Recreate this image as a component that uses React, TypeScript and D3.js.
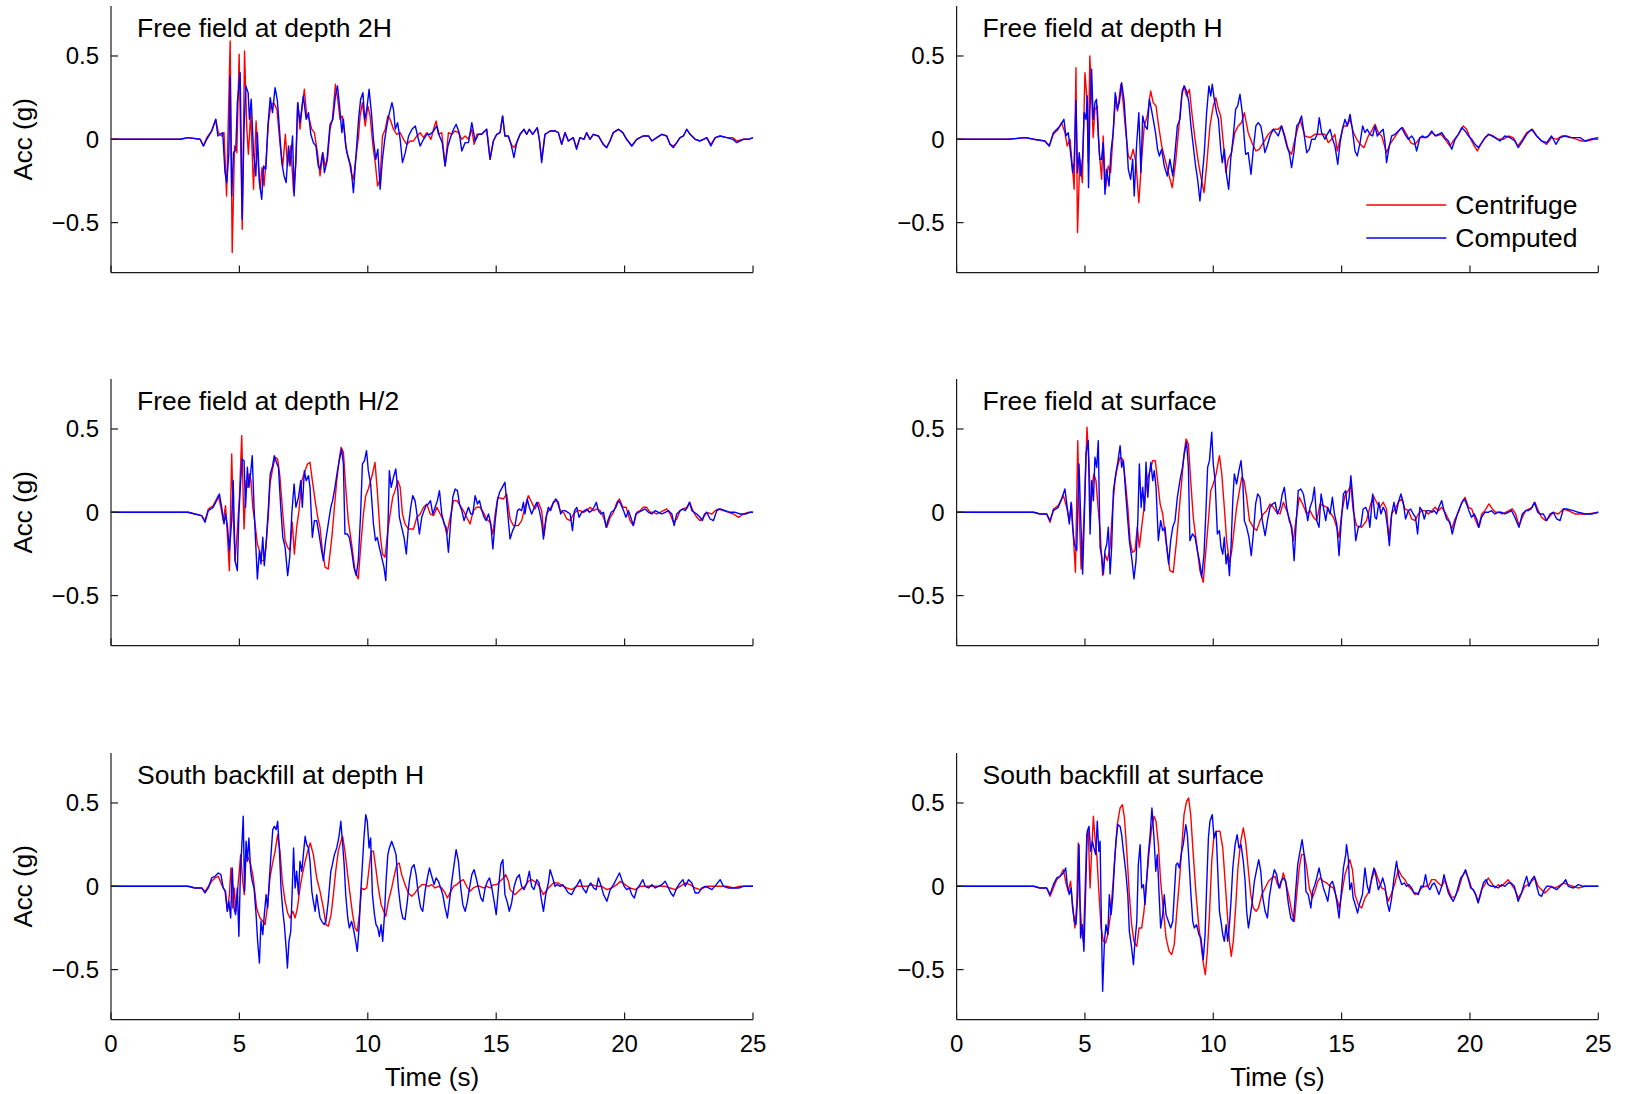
import React from "react";
import * as d3 from "d3";

// ---------- data ----------
const TIME_TICKS = [0, 5, 10, 15, 20, 25];
const ACC_TICKS = [-0.5, 0, 0.5];
const TIME_DOMAIN = [0, 25];
const ACC_DOMAIN = [-0.8, 0.8];
const PANEL_TITLES = [
  "Free field at depth 2H",
  "Free field at depth H",
  "Free field at depth H/2",
  "Free field at surface",
  "South backfill at depth H",
  "South backfill at surface",
];
const SERIES_NAMES = ["Centrifuge", "Computed"];
const X_LABEL = "Time (s)";
const Y_LABEL = "Acc (g)";

type P = [number, number];

// Free field at depth 2H
const centrifuge2H: P[] = [[0,0],[1.0,0],[2.0,0],[2.7,0],[3.0,0.01],[3.47,0],[3.60,-0.04],[3.73,0.01],[3.92,0.05],[4.08,0.12],[4.18,0.04],[4.31,0.02],[4.40,0.04],[4.50,-0.34],[4.64,0.59],[4.72,-0.68],[4.81,-0.04],[4.90,-0.08],[4.99,0.51],[5.11,-0.54],[5.20,0.53],[5.29,0.06],[5.35,-0.09],[5.44,0.16],[5.55,-0.30],[5.65,0.11],[5.74,-0.16],[5.81,-0.30],[5.88,-0.17],[5.96,-0.28],[6.04,-0.12],[6.13,0.10],[6.22,0.20],[6.33,0.22],[6.46,0.18],[6.59,-0.04],[6.69,-0.16],[6.79,0.03],[6.87,-0.16],[7.00,-0.04],[7.11,-0.32],[7.20,-0.14],[7.27,0.22],[7.36,0.06],[7.46,0.22],[7.53,0.30],[7.62,0.14],[7.72,0.12],[7.82,0.06],[7.92,0.04],[8.04,-0.08],[8.14,-0.22],[8.25,-0.08],[8.34,-0.16],[8.43,-0.12],[8.53,0.06],[8.62,0.12],[8.74,0.33],[8.83,0.24],[8.92,0.12],[9.01,0.14],[9.09,0.04],[9.18,-0.08],[9.27,-0.12],[9.35,-0.20],[9.44,-0.24],[9.53,-0.12],[9.64,0.02],[9.70,0.14],[9.79,0.22],[9.90,0.08],[10.0,0.20],[10.09,0.14],[10.20,-0.04],[10.29,-0.14],[10.38,-0.28],[10.48,-0.24],[10.57,0.02],[10.68,0.06],[10.78,0.14],[10.87,0.12],[11.00,0.06],[11.13,0.03],[11.26,0.04],[11.39,0.0],[11.52,-0.03],[11.65,-0.01],[11.78,-0.01],[11.91,0.02],[12.04,0.04],[12.17,0.01],[12.30,0.04],[12.46,0.0],[12.56,0.06],[12.66,0.11],[12.75,0.03],[12.88,0.04],[13.01,-0.16],[13.14,0.04],[13.27,0.03],[13.40,0.05],[13.53,0.04],[13.66,0.0],[13.79,0.02],[13.92,0.0],[14.05,0.06],[14.14,-0.03],[14.25,0.03],[14.43,0.03],[14.63,0.06],[14.76,-0.12],[14.89,-0.01],[15.02,0.03],[15.15,0.04],[15.25,0.14],[15.34,0.02],[15.47,0.02],[15.58,-0.03],[15.69,-0.05],[15.80,-0.02],[15.93,0.03],[16.08,0.06],[16.19,0.03],[16.29,0.06],[16.42,0.03],[16.60,0.07],[16.68,0.0],[16.77,-0.12],[16.90,0.03],[17.10,0.05],[17.29,0.05],[17.42,0.04],[17.55,-0.03],[17.68,0.04],[17.81,-0.01],[18.0,0.01],[18.13,-0.05],[18.26,0.01],[18.42,0.0],[18.52,0.04],[18.65,0.0],[18.78,0.03],[18.98,0.02],[19.17,-0.03],[19.30,-0.05],[19.43,-0.01],[19.56,0.04],[19.76,0.06],[19.93,0.04],[20.08,0.0],[20.28,-0.04],[20.47,0.0],[20.73,0.02],[20.93,0.02],[21.06,-0.01],[21.25,0.01],[21.45,0.03],[21.64,0.02],[21.77,-0.03],[21.90,-0.04],[22.03,-0.02],[22.16,0.01],[22.29,0.02],[22.42,0.06],[22.55,0.03],[22.75,0.0],[22.94,-0.01],[23.07,0.0],[23.20,0.01],[23.36,-0.03],[23.53,0.01],[23.72,0.02],[23.98,0.01],[24.21,0.01],[24.37,-0.01],[24.63,0.0],[24.82,0.0],[25.0,0.01]];
const computed2H: P[] = [[0,0],[1.0,0],[2.0,0],[2.7,0],[3.0,0.01],[3.47,0],[3.60,-0.04],[3.73,0.0],[3.92,0.05],[4.08,0.12],[4.16,0.02],[4.25,0.03],[4.35,0.04],[4.44,-0.20],[4.51,-0.26],[4.59,-0.08],[4.64,0.38],[4.70,-0.34],[4.77,-0.08],[4.86,-0.06],[4.92,0.22],[5.03,0.40],[5.11,-0.48],[5.18,0.06],[5.25,0.32],[5.34,0.28],[5.39,0.12],[5.46,0.24],[5.55,-0.08],[5.64,-0.22],[5.70,0.04],[5.78,-0.26],[5.87,-0.36],[5.94,-0.16],[6.03,-0.18],[6.11,0.08],[6.20,0.25],[6.29,0.16],[6.39,0.31],[6.48,0.23],[6.56,0.06],[6.65,-0.14],[6.74,-0.22],[6.82,-0.26],[6.91,-0.04],[6.97,-0.16],[7.07,0.02],[7.13,-0.34],[7.21,-0.08],[7.27,0.22],[7.36,0.10],[7.49,0.26],[7.60,0.12],[7.69,0.16],[7.78,0.03],[7.88,-0.02],[7.98,-0.04],[8.07,-0.16],[8.14,-0.18],[8.24,-0.08],[8.31,-0.20],[8.40,-0.14],[8.53,0.09],[8.64,0.12],[8.74,0.26],[8.82,0.32],[8.90,0.20],[8.99,0.04],[9.05,0.12],[9.14,-0.04],[9.25,-0.12],[9.34,-0.16],[9.44,-0.32],[9.53,-0.12],[9.64,0.12],[9.72,0.24],[9.81,0.28],[9.88,0.12],[9.96,0.18],[10.05,0.30],[10.14,0.16],[10.22,0.0],[10.31,-0.12],[10.39,-0.06],[10.48,-0.30],[10.57,-0.12],[10.66,0.0],[10.74,0.08],[10.83,0.15],[10.94,0.22],[11.0,0.18],[11.07,0.06],[11.16,0.10],[11.26,0.0],[11.35,-0.14],[11.46,-0.08],[11.59,0.02],[11.72,0.06],[11.85,0.08],[11.94,0.02],[12.04,-0.04],[12.17,0.0],[12.30,0.03],[12.43,0.03],[12.56,0.05],[12.69,0.08],[12.79,0.02],[12.90,-0.02],[13.01,-0.16],[13.12,-0.04],[13.24,0.02],[13.34,0.06],[13.44,0.09],[13.56,0.04],[13.66,-0.07],[13.79,-0.02],[13.92,-0.02],[14.05,0.10],[14.18,-0.01],[14.31,0.03],[14.43,0.03],[14.63,0.06],[14.76,-0.12],[14.89,-0.01],[15.02,0.03],[15.15,0.04],[15.25,0.14],[15.34,0.02],[15.47,0.02],[15.58,-0.03],[15.69,-0.11],[15.80,-0.02],[15.93,0.03],[16.08,0.06],[16.19,0.03],[16.29,0.06],[16.42,0.03],[16.60,0.07],[16.68,0.0],[16.77,-0.14],[16.90,0.03],[17.10,0.05],[17.29,0.05],[17.42,0.04],[17.55,-0.03],[17.68,0.04],[17.81,-0.01],[18.0,0.01],[18.13,-0.06],[18.26,0.01],[18.42,0.0],[18.52,0.04],[18.65,0.0],[18.78,0.03],[18.98,0.02],[19.17,-0.03],[19.30,-0.05],[19.43,-0.01],[19.56,0.04],[19.76,0.06],[19.93,0.04],[20.08,0.0],[20.28,-0.04],[20.47,0.0],[20.73,0.02],[20.93,0.02],[21.06,-0.01],[21.25,0.01],[21.45,0.03],[21.64,0.02],[21.77,-0.03],[21.90,-0.05],[22.03,-0.02],[22.16,0.01],[22.29,0.02],[22.42,0.06],[22.55,0.03],[22.75,0.0],[22.94,-0.01],[23.07,0.0],[23.20,0.01],[23.36,-0.04],[23.53,0.01],[23.72,0.02],[23.98,0.01],[24.21,0.0],[24.37,-0.02],[24.63,0.0],[24.82,0.0],[25.0,0.01]];

// Free field at depth H
const centrifugeH: P[] = [[0,0],[1,0],[2,0],[2.7,0.01],[3.0,0.0],[3.44,-0.01],[3.61,-0.04],[3.77,0.03],[3.96,0.06],[4.09,0.10],[4.22,0.04],[4.31,-0.04],[4.42,0.0],[4.52,-0.18],[4.58,-0.30],[4.65,0.43],[4.71,-0.56],[4.80,-0.12],[4.90,-0.26],[5.0,0.40],[5.08,0.24],[5.13,-0.14],[5.19,0.50],[5.27,0.22],[5.32,0.01],[5.39,0.18],[5.48,0.20],[5.56,-0.08],[5.65,-0.24],[5.71,0.02],[5.80,-0.30],[5.91,-0.16],[6.0,-0.20],[6.10,0.04],[6.20,0.26],[6.27,0.17],[6.40,0.33],[6.49,0.22],[6.58,0.06],[6.69,-0.10],[6.78,-0.12],[6.88,-0.06],[6.99,-0.14],[7.10,-0.38],[7.21,-0.12],[7.31,0.08],[7.43,0.14],[7.56,0.29],[7.66,0.22],[7.77,0.20],[7.87,0.08],[7.99,-0.04],[8.12,-0.12],[8.25,-0.20],[8.40,-0.29],[8.53,-0.14],[8.64,0.04],[8.77,0.26],[8.86,0.32],[8.96,0.26],[9.07,0.30],[9.18,0.14],[9.29,0.0],[9.42,-0.14],[9.51,-0.22],[9.64,-0.32],[9.74,-0.16],[9.87,0.08],[10.0,0.20],[10.1,0.25],[10.2,0.18],[10.29,0.14],[10.39,-0.02],[10.49,-0.20],[10.58,-0.12],[10.71,-0.08],[10.84,0.04],[10.97,0.08],[11.1,0.10],[11.21,0.16],[11.36,0.04],[11.53,-0.03],[11.66,-0.07],[11.79,-0.06],[11.95,-0.02],[12.14,0.03],[12.34,0.06],[12.53,0.06],[12.66,0.08],[12.79,0.02],[12.92,-0.06],[13.05,-0.09],[13.18,0.0],[13.38,0.12],[13.57,0.02],[13.77,0.01],[13.96,0.03],[14.16,0.03],[14.35,0.03],[14.48,-0.02],[14.61,0.0],[14.74,0.03],[14.83,-0.07],[14.94,0.0],[15.07,0.08],[15.2,0.08],[15.33,0.12],[15.46,0.04],[15.59,0.0],[15.72,-0.03],[15.87,-0.05],[16.04,0.02],[16.17,0.05],[16.30,0.09],[16.43,0.04],[16.56,0.02],[16.75,-0.08],[16.88,-0.03],[17.01,0.0],[17.14,0.03],[17.27,0.06],[17.38,0.07],[17.53,0.03],[17.69,-0.02],[17.82,-0.03],[17.92,-0.02],[18.05,0.01],[18.18,0.01],[18.31,0.01],[18.51,0.04],[18.70,0.02],[18.87,0.03],[19.03,0.0],[19.22,-0.04],[19.35,-0.01],[19.55,0.03],[19.74,0.08],[19.87,0.06],[20.0,0.01],[20.13,-0.03],[20.29,-0.07],[20.42,-0.03],[20.59,0.01],[20.75,0.03],[20.91,0.02],[21.1,0.0],[21.3,0.0],[21.49,0.02],[21.69,0.01],[21.86,-0.04],[22.01,-0.01],[22.21,0.04],[22.44,0.06],[22.6,0.02],[22.79,-0.01],[22.99,-0.03],[23.18,0.01],[23.38,0.0],[23.57,0.02],[23.77,0.02],[23.96,0.01],[24.16,0.0],[24.35,-0.01],[24.55,-0.01],[24.81,0.0],[25.0,0.0]];
const computedH: P[] = [[0,0],[1,0],[2,0],[2.7,0.01],[3.0,0.0],[3.44,-0.01],[3.61,-0.04],[3.77,0.04],[4.03,0.08],[4.18,0.12],[4.26,0.02],[4.35,0.04],[4.44,-0.08],[4.52,-0.20],[4.58,-0.14],[4.65,0.23],[4.71,-0.20],[4.78,-0.08],[4.84,-0.22],[4.91,-0.10],[4.97,0.16],[5.04,0.12],[5.09,0.26],[5.14,-0.29],[5.19,0.16],[5.26,0.42],[5.32,0.12],[5.39,0.22],[5.45,0.24],[5.52,0.02],[5.58,-0.12],[5.65,-0.12],[5.71,-0.02],[5.78,-0.33],[5.84,-0.18],[5.94,-0.28],[6.01,-0.08],[6.10,0.04],[6.18,0.28],[6.26,0.18],[6.34,0.22],[6.43,0.34],[6.52,0.24],[6.60,0.06],[6.69,-0.18],[6.78,-0.24],[6.86,-0.12],[6.92,-0.34],[7.01,-0.04],[7.10,0.16],[7.18,-0.20],[7.25,0.14],[7.34,0.08],[7.43,0.06],[7.51,0.24],[7.60,0.17],[7.66,0.12],[7.75,0.04],[7.83,-0.06],[7.90,-0.10],[7.99,-0.06],[8.09,-0.16],[8.21,-0.22],[8.31,-0.12],[8.42,-0.22],[8.51,-0.08],[8.60,0.08],[8.70,0.12],[8.79,0.29],[8.87,0.32],[8.96,0.29],[9.05,0.22],[9.13,0.08],[9.22,-0.04],[9.31,-0.16],[9.39,-0.24],[9.48,-0.37],[9.57,-0.22],[9.65,-0.08],[9.74,0.16],[9.83,0.32],[9.90,0.26],[9.96,0.33],[10.04,0.24],[10.13,0.16],[10.2,0.12],[10.29,-0.06],[10.35,-0.14],[10.43,-0.06],[10.52,-0.22],[10.6,-0.30],[10.68,-0.12],[10.78,0.02],[10.87,0.18],[10.95,0.20],[11.04,0.27],[11.13,0.16],[11.21,0.0],[11.26,-0.09],[11.36,-0.08],[11.47,-0.21],[11.56,-0.06],[11.66,0.08],[11.75,0.10],[11.85,0.08],[11.92,0.02],[12.01,-0.08],[12.1,-0.04],[12.21,0.02],[12.34,0.06],[12.44,0.04],[12.53,0.02],[12.66,0.08],[12.77,0.02],[12.86,-0.04],[12.96,-0.08],[13.05,-0.17],[13.14,-0.08],[13.25,0.08],[13.35,0.10],[13.44,0.14],[13.53,0.04],[13.64,-0.08],[13.74,-0.06],[13.83,0.0],[13.96,0.0],[14.05,0.03],[14.13,0.13],[14.22,0.04],[14.35,0.0],[14.44,0.03],[14.55,0.06],[14.65,0.0],[14.74,-0.04],[14.85,-0.15],[14.94,-0.02],[15.03,0.06],[15.13,0.12],[15.22,0.08],[15.33,0.15],[15.42,0.06],[15.52,-0.07],[15.61,-0.10],[15.72,-0.02],[15.82,0.08],[15.91,0.04],[16.0,0.06],[16.1,0.03],[16.21,0.02],[16.30,0.08],[16.39,0.02],[16.49,0.04],[16.62,0.06],[16.69,-0.02],[16.75,-0.14],[16.86,-0.04],[16.95,0.02],[17.08,0.03],[17.21,0.05],[17.34,0.07],[17.47,0.03],[17.60,0.0],[17.73,0.02],[17.82,0.0],[17.92,-0.07],[18.05,0.01],[18.16,0.02],[18.25,0.01],[18.38,0.02],[18.51,0.05],[18.64,0.02],[18.77,0.03],[18.90,0.04],[19.03,0.01],[19.16,-0.01],[19.29,-0.06],[19.42,0.0],[19.55,0.03],[19.68,0.07],[19.81,0.05],[19.94,0.02],[20.07,0.0],[20.2,-0.03],[20.33,-0.05],[20.46,-0.02],[20.59,0.01],[20.72,0.03],[20.85,0.02],[20.97,0.01],[21.17,-0.01],[21.36,0.02],[21.56,0.01],[21.75,-0.01],[21.88,-0.05],[22.01,-0.02],[22.21,0.03],[22.40,0.06],[22.6,0.02],[22.79,-0.01],[22.99,-0.02],[23.18,0.02],[23.35,-0.03],[23.51,0.01],[23.70,0.02],[23.90,0.01],[24.09,0.01],[24.29,0.01],[24.48,-0.01],[24.68,0.0],[25.0,0.01]];

// Free field at depth H/2
const centrifugeH2: P[] = [[0,0],[1,0],[2,0],[3.0,0.0],[3.27,-0.01],[3.53,-0.02],[3.66,-0.05],[3.79,0.02],[3.98,0.04],[4.18,0.10],[4.28,0.03],[4.37,-0.05],[4.46,0.04],[4.53,-0.13],[4.61,-0.35],[4.70,0.35],[4.76,-0.01],[4.83,-0.29],[4.92,-0.11],[5.0,0.09],[5.09,0.46],[5.18,-0.10],[5.26,0.19],[5.32,0.15],[5.39,0.23],[5.45,0.19],[5.52,0.03],[5.61,-0.07],[5.70,-0.19],[5.78,-0.23],[5.87,-0.29],[5.96,-0.29],[6.04,-0.19],[6.13,-0.01],[6.19,0.17],[6.28,0.25],[6.39,0.33],[6.49,0.32],[6.58,0.21],[6.67,0.03],[6.78,-0.17],[6.88,-0.21],[6.97,-0.23],[7.06,-0.06],[7.14,-0.25],[7.23,-0.09],[7.32,0.01],[7.43,0.19],[7.56,0.25],[7.65,0.29],[7.75,0.30],[7.84,0.19],[7.95,0.07],[8.05,-0.03],[8.14,-0.09],[8.23,-0.23],[8.34,-0.33],[8.46,-0.34],[8.60,-0.15],[8.70,0.03],[8.79,0.19],[8.88,0.31],[8.96,0.39],[9.05,0.36],[9.14,0.15],[9.24,-0.05],[9.37,-0.19],[9.50,-0.35],[9.63,-0.40],[9.72,-0.21],[9.83,-0.01],[9.92,0.10],[10.02,0.14],[10.15,0.21],[10.28,0.30],[10.37,0.13],[10.48,-0.13],[10.57,-0.25],[10.67,-0.27],[10.78,-0.11],[10.87,-0.01],[10.97,0.09],[11.06,0.13],[11.17,0.19],[11.26,0.15],[11.35,-0.01],[11.45,-0.07],[11.58,-0.10],[11.78,-0.10],[11.91,-0.03],[12.04,-0.01],[12.17,0.03],[12.30,0.05],[12.43,-0.01],[12.56,-0.02],[12.69,0.03],[12.82,-0.01],[12.95,-0.05],[13.08,-0.13],[13.21,-0.03],[13.34,0.07],[13.47,0.07],[13.6,0.04],[13.72,0.01],[13.85,-0.03],[13.98,-0.07],[14.11,0.01],[14.24,0.03],[14.37,0.03],[14.5,0.0],[14.63,-0.04],[14.76,-0.06],[14.87,-0.13],[14.96,-0.01],[15.06,0.09],[15.28,0.08],[15.41,0.11],[15.54,-0.04],[15.67,-0.08],[15.86,-0.08],[15.99,-0.05],[16.12,0.03],[16.25,0.10],[16.38,0.06],[16.51,0.02],[16.64,0.06],[16.77,0.01],[16.86,-0.14],[16.97,-0.01],[17.10,0.02],[17.23,0.06],[17.36,0.07],[17.49,0.01],[17.62,0.0],[17.75,-0.04],[17.88,-0.05],[18.01,-0.01],[18.14,0.01],[18.27,0.01],[18.40,0.0],[18.53,0.01],[18.66,0.03],[18.79,0.01],[18.92,0.02],[19.05,0.01],[19.18,-0.03],[19.31,-0.09],[19.44,-0.03],[19.57,0.0],[19.70,0.06],[19.80,0.08],[19.93,0.03],[20.06,0.03],[20.21,-0.05],[20.34,-0.08],[20.47,0.0],[20.60,0.01],[20.73,0.03],[20.86,0.03],[20.99,0.0],[21.12,0.0],[21.25,-0.01],[21.38,0.0],[21.51,0.01],[21.64,0.02],[21.77,-0.01],[21.90,-0.06],[22.03,-0.04],[22.16,0.01],[22.29,0.02],[22.42,0.03],[22.53,0.06],[22.66,0.01],[22.81,-0.03],[22.94,-0.05],[23.07,-0.03],[23.2,0.0],[23.40,-0.01],[23.53,0.01],[23.66,0.02],[23.85,0.01],[24.05,0.0],[24.24,-0.01],[24.44,-0.03],[24.63,-0.01],[24.82,0.0],[25.0,0.0]];
const computedH2: P[] = [[0,0],[1,0],[2,0],[3.0,0.0],[3.27,-0.01],[3.53,-0.02],[3.66,-0.06],[3.79,0.01],[3.98,0.03],[4.11,0.07],[4.22,0.11],[4.31,0.03],[4.40,-0.07],[4.46,-0.01],[4.54,-0.09],[4.61,-0.23],[4.70,-0.05],[4.76,0.19],[4.83,-0.29],[4.92,-0.35],[4.98,-0.01],[5.05,0.19],[5.11,0.32],[5.18,0.31],[5.24,0.03],[5.31,0.27],[5.37,0.15],[5.44,0.24],[5.50,0.34],[5.57,0.03],[5.63,-0.17],[5.70,-0.40],[5.78,-0.23],[5.84,-0.31],[5.91,-0.15],[5.97,-0.32],[6.04,-0.19],[6.13,0.03],[6.20,0.23],[6.28,0.27],[6.36,0.34],[6.44,0.30],[6.52,0.27],[6.61,0.03],[6.69,-0.15],[6.78,-0.21],[6.88,-0.38],[6.96,-0.27],[7.04,-0.01],[7.13,0.17],[7.20,0.03],[7.30,0.09],[7.39,0.19],[7.45,0.03],[7.53,0.25],[7.60,0.19],[7.69,0.22],[7.75,0.15],[7.84,-0.15],[7.92,-0.05],[8.01,-0.05],[8.10,-0.13],[8.18,-0.21],[8.27,-0.29],[8.36,-0.17],[8.46,-0.07],[8.56,0.03],[8.63,0.07],[8.72,0.15],[8.82,0.25],[8.89,0.31],[8.98,0.38],[9.05,0.29],[9.11,-0.13],[9.20,-0.13],[9.28,-0.15],[9.37,-0.23],[9.46,-0.33],[9.55,-0.38],[9.63,-0.29],[9.72,-0.01],[9.79,0.29],[9.87,0.31],[9.95,0.37],[10.02,0.25],[10.11,0.17],[10.22,-0.07],[10.30,-0.17],[10.37,-0.15],[10.45,-0.21],[10.54,-0.27],[10.63,-0.33],[10.70,-0.41],[10.78,-0.11],[10.84,0.25],[10.91,0.15],[11.0,0.21],[11.09,0.26],[11.17,0.13],[11.23,-0.03],[11.32,-0.09],[11.41,-0.15],[11.50,-0.25],[11.58,-0.09],[11.67,0.03],[11.75,0.10],[11.84,0.07],[11.93,-0.03],[12.01,-0.13],[12.10,-0.03],[12.19,0.01],[12.27,0.04],[12.36,0.05],[12.44,0.07],[12.53,-0.01],[12.62,0.03],[12.71,0.07],[12.79,0.13],[12.88,-0.01],[12.97,-0.07],[13.05,-0.09],[13.14,-0.24],[13.23,-0.05],[13.31,0.09],[13.40,0.14],[13.49,0.13],[13.57,0.05],[13.66,0.01],[13.75,-0.05],[13.83,-0.01],[13.92,0.03],[14.01,-0.01],[14.09,-0.01],[14.18,0.10],[14.27,0.05],[14.35,0.07],[14.44,0.01],[14.53,-0.03],[14.61,-0.05],[14.70,-0.01],[14.79,-0.07],[14.87,-0.22],[14.96,-0.05],[15.05,0.07],[15.13,0.12],[15.34,0.18],[15.44,0.01],[15.54,-0.16],[15.64,-0.11],[15.73,-0.08],[15.83,0.01],[15.9,0.02],[15.99,0.01],[16.06,0.06],[16.12,-0.01],[16.21,0.08],[16.29,0.03],[16.38,-0.01],[16.49,0.03],[16.58,0.06],[16.68,0.01],[16.77,-0.06],[16.84,-0.16],[16.93,-0.04],[17.03,0.03],[17.12,0.01],[17.23,0.06],[17.32,0.08],[17.42,0.06],[17.51,-0.01],[17.59,0.01],[17.68,0.01],[17.79,0.0],[17.88,-0.01],[17.97,-0.11],[18.05,0.01],[18.14,0.03],[18.23,-0.03],[18.33,0.0],[18.44,0.01],[18.53,0.02],[18.63,0.0],[18.72,0.01],[18.81,0.03],[18.90,0.06],[18.98,0.01],[19.07,-0.01],[19.18,0.0],[19.28,-0.09],[19.37,-0.04],[19.48,0.0],[19.57,0.01],[19.66,0.03],[19.76,0.07],[19.85,0.05],[19.96,0.01],[20.05,-0.03],[20.15,0.01],[20.24,-0.03],[20.34,-0.08],[20.44,-0.01],[20.54,0.0],[20.67,0.01],[20.80,0.02],[20.93,0.0],[21.06,-0.01],[21.19,0.01],[21.32,0.0],[21.45,-0.01],[21.58,0.0],[21.71,0.01],[21.84,-0.01],[21.93,-0.08],[22.03,-0.01],[22.16,0.01],[22.27,0.02],[22.36,0.01],[22.45,0.03],[22.53,0.06],[22.62,0.01],[22.71,0.0],[22.81,-0.01],[22.94,-0.03],[23.03,-0.05],[23.11,-0.01],[23.2,0.0],[23.33,-0.04],[23.46,-0.05],[23.59,0.01],[23.72,0.02],[23.92,0.01],[24.11,0.0],[24.31,0.0],[24.50,-0.01],[24.70,-0.01],[24.89,0.0],[25.0,0.0]];

// Free field at surface
const centrifugeSurf: P[] = [[0,0],[1,0],[2,0],[3.0,0.0],[3.25,-0.01],[3.51,-0.01],[3.64,-0.06],[3.77,0.02],[3.96,0.04],[4.16,0.10],[4.29,0.03],[4.39,-0.05],[4.48,0.05],[4.55,-0.15],[4.63,-0.36],[4.72,0.43],[4.78,-0.01],[4.85,-0.34],[4.94,-0.11],[5.0,0.13],[5.08,0.51],[5.16,0.29],[5.22,-0.01],[5.29,0.17],[5.35,0.23],[5.43,0.19],[5.50,0.05],[5.59,-0.11],[5.69,-0.38],[5.78,-0.25],[5.87,-0.29],[5.98,-0.21],[6.08,0.03],[6.17,0.19],[6.26,0.27],[6.37,0.33],[6.47,0.32],[6.56,0.21],[6.67,0.03],[6.76,-0.17],[6.85,-0.24],[6.95,-0.23],[7.04,-0.09],[7.12,-0.21],[7.21,-0.09],[7.32,0.05],[7.41,0.19],[7.54,0.25],[7.64,0.31],[7.74,0.31],[7.83,0.19],[7.93,0.05],[8.03,-0.01],[8.12,-0.13],[8.22,-0.25],[8.31,-0.35],[8.44,-0.36],[8.57,-0.17],[8.68,0.03],[8.77,0.19],[8.86,0.35],[8.94,0.44],[9.03,0.41],[9.12,0.19],[9.22,-0.03],[9.35,-0.19],[9.48,-0.35],[9.61,-0.42],[9.70,-0.25],[9.81,-0.05],[9.90,0.13],[10.0,0.17],[10.11,0.23],[10.24,0.34],[10.33,0.23],[10.43,0.03],[10.52,-0.17],[10.63,-0.30],[10.72,-0.23],[10.82,-0.09],[10.91,0.03],[11.02,0.13],[11.11,0.21],[11.20,0.19],[11.30,0.09],[11.41,-0.05],[11.56,-0.09],[11.69,-0.11],[11.82,-0.05],[11.95,-0.01],[12.08,0.01],[12.21,0.05],[12.34,0.03],[12.47,0.0],[12.6,-0.01],[12.73,0.06],[12.86,0.01],[12.99,-0.05],[13.12,-0.17],[13.22,-0.05],[13.35,0.09],[13.48,0.05],[13.64,-0.01],[13.77,0.01],[13.9,-0.03],[14.03,-0.05],[14.16,0.05],[14.29,0.04],[14.42,0.03],[14.55,0.0],[14.68,-0.03],[14.81,-0.09],[14.9,-0.15],[15.0,-0.01],[15.13,0.10],[15.26,0.13],[15.36,0.16],[15.45,0.01],[15.58,-0.08],[15.78,-0.09],[15.97,-0.05],[16.10,0.03],[16.23,0.10],[16.36,0.06],[16.49,0.03],[16.62,0.06],[16.75,0.02],[16.84,-0.16],[16.95,-0.01],[17.08,0.02],[17.21,0.06],[17.34,0.08],[17.47,0.02],[17.60,0.01],[17.73,-0.04],[17.86,-0.05],[17.99,-0.01],[18.12,0.01],[18.25,0.01],[18.38,-0.01],[18.51,0.01],[18.64,0.03],[18.77,0.01],[18.90,0.03],[19.03,0.0],[19.16,-0.04],[19.29,-0.10],[19.42,-0.04],[19.55,0.0],[19.68,0.06],[19.81,0.09],[19.94,0.03],[20.07,0.02],[20.2,-0.04],[20.33,-0.09],[20.46,-0.01],[20.58,0.01],[20.74,0.05],[20.87,0.02],[21.0,0.0],[21.13,0.0],[21.26,-0.01],[21.39,0.0],[21.52,0.01],[21.65,0.02],[21.78,-0.01],[21.91,-0.08],[22.04,-0.03],[22.17,0.01],[22.3,0.02],[22.43,0.03],[22.53,0.06],[22.66,0.01],[22.79,-0.03],[22.95,-0.05],[23.08,-0.03],[23.25,0.0],[23.44,-0.01],[23.64,0.02],[23.83,0.01],[24.09,-0.01],[24.35,-0.01],[24.61,-0.01],[25.0,0.0]];
const computedSurf: P[] = [[0,0],[1,0],[2,0],[3.0,0.0],[3.25,-0.01],[3.51,-0.01],[3.64,-0.05],[3.77,0.01],[3.96,0.03],[4.09,0.08],[4.22,0.14],[4.31,0.03],[4.39,-0.07],[4.46,0.06],[4.52,-0.09],[4.59,-0.19],[4.68,-0.23],[4.77,0.29],[4.83,-0.01],[4.91,-0.37],[4.98,-0.01],[5.04,0.35],[5.13,0.43],[5.20,-0.13],[5.26,0.19],[5.33,0.07],[5.39,0.33],[5.46,0.27],[5.52,0.43],[5.59,-0.21],[5.65,-0.26],[5.72,-0.37],[5.78,-0.23],[5.85,-0.19],[5.91,-0.09],[5.98,-0.37],[6.04,-0.21],[6.11,0.13],[6.20,0.23],[6.28,0.30],[6.37,0.40],[6.43,0.27],[6.50,0.31],[6.57,0.15],[6.65,-0.01],[6.73,-0.17],[6.82,-0.27],[6.91,-0.40],[6.99,-0.29],[7.06,-0.05],[7.12,0.29],[7.19,0.03],[7.25,0.15],[7.32,0.01],[7.38,0.30],[7.45,0.09],[7.51,0.23],[7.57,0.30],[7.64,0.19],[7.70,0.25],[7.77,0.15],[7.86,-0.17],[7.95,-0.05],[8.03,-0.11],[8.12,-0.09],[8.19,-0.21],[8.26,-0.31],[8.34,-0.17],[8.42,-0.09],[8.51,-0.05],[8.60,0.09],[8.70,0.19],[8.80,0.27],[8.87,0.35],[8.96,0.42],[9.03,0.27],[9.09,-0.17],[9.19,-0.13],[9.29,-0.15],[9.38,-0.23],[9.46,-0.29],[9.55,-0.39],[9.64,-0.25],[9.72,0.03],[9.78,0.27],[9.85,0.31],[9.94,0.48],[10.0,0.29],[10.07,0.19],[10.16,-0.13],[10.24,-0.11],[10.30,-0.21],[10.37,-0.25],[10.43,-0.15],[10.50,-0.31],[10.56,-0.25],[10.63,-0.38],[10.69,-0.21],[10.76,0.07],[10.82,0.23],[10.91,0.17],[11.0,0.25],[11.08,0.31],[11.15,0.19],[11.21,-0.05],[11.30,-0.09],[11.39,-0.15],[11.48,-0.26],[11.56,-0.13],[11.65,0.05],[11.73,0.11],[11.82,0.09],[11.91,-0.05],[12.02,-0.14],[12.11,-0.05],[12.21,0.03],[12.31,0.05],[12.41,0.06],[12.50,-0.01],[12.6,0.03],[12.69,0.11],[12.77,0.15],[12.86,0.03],[12.96,-0.05],[13.06,-0.09],[13.15,-0.29],[13.22,-0.09],[13.31,0.13],[13.41,0.14],[13.51,0.11],[13.6,0.03],[13.68,-0.05],[13.77,0.03],[13.86,0.07],[13.94,0.15],[14.03,-0.05],[14.12,-0.09],[14.2,0.11],[14.29,0.03],[14.38,-0.05],[14.46,0.03],[14.55,-0.01],[14.64,0.09],[14.72,-0.01],[14.81,-0.07],[14.9,-0.26],[14.98,-0.07],[15.07,0.11],[15.16,0.13],[15.22,0.02],[15.29,0.08],[15.36,0.22],[15.45,0.06],[15.55,-0.17],[15.65,-0.09],[15.75,-0.08],[15.84,0.02],[15.94,0.03],[16.04,-0.01],[16.10,-0.09],[16.21,0.11],[16.30,-0.03],[16.36,-0.04],[16.45,0.06],[16.53,-0.01],[16.62,0.03],[16.71,0.0],[16.79,-0.09],[16.86,-0.20],[16.95,-0.01],[17.04,0.06],[17.12,-0.01],[17.21,0.06],[17.31,0.11],[17.40,0.06],[17.49,-0.04],[17.60,0.01],[17.69,0.02],[17.79,-0.01],[17.88,-0.03],[17.96,-0.13],[18.05,0.03],[18.14,0.01],[18.22,-0.04],[18.31,0.01],[18.42,0.01],[18.51,0.0],[18.61,0.01],[18.70,-0.01],[18.79,0.03],[18.90,0.07],[18.99,0.01],[19.09,-0.04],[19.22,-0.06],[19.31,-0.13],[19.42,-0.06],[19.51,-0.01],[19.61,0.03],[19.70,0.06],[19.78,0.08],[19.87,0.05],[19.96,0.01],[20.06,-0.03],[20.17,-0.01],[20.26,-0.04],[20.35,-0.09],[20.45,-0.03],[20.58,0.0],[20.71,0.0],[20.84,0.01],[20.97,-0.01],[21.1,0.0],[21.23,0.0],[21.36,-0.01],[21.49,0.0],[21.62,0.01],[21.75,-0.03],[21.91,-0.09],[22.04,-0.01],[22.17,0.01],[22.27,0.01],[22.38,0.02],[22.51,0.06],[22.64,0.0],[22.73,-0.01],[22.86,-0.01],[22.99,-0.05],[23.12,-0.01],[23.25,0.0],[23.38,-0.04],[23.51,-0.05],[23.64,0.02],[23.77,0.02],[24.03,0.01],[24.22,0.0],[24.48,-0.01],[24.74,-0.01],[25.0,0.0]];

// South backfill at depth H
const centrifugeSBH: P[] = [[0,0],[1,0],[2,0],[3.0,0.0],[3.27,-0.01],[3.53,-0.01],[3.66,-0.03],[3.79,0.0],[3.92,0.03],[4.05,0.05],[4.18,0.06],[4.31,0.01],[4.44,-0.03],[4.53,-0.15],[4.61,-0.05],[4.67,0.11],[4.74,-0.13],[4.80,-0.01],[4.87,-0.15],[4.96,0.03],[5.05,0.19],[5.13,0.03],[5.19,-0.05],[5.26,0.19],[5.35,0.17],[5.44,0.13],[5.54,0.05],[5.67,-0.13],[5.80,-0.19],[5.91,-0.21],[6.0,-0.23],[6.1,-0.11],[6.19,0.05],[6.28,0.13],[6.39,0.21],[6.49,0.31],[6.58,0.21],[6.67,0.03],[6.78,-0.09],[6.88,-0.16],[6.97,-0.19],[7.08,-0.15],[7.17,-0.19],[7.26,-0.13],[7.36,-0.01],[7.45,0.07],[7.56,0.15],[7.66,0.21],[7.76,0.26],[7.88,0.19],[8.01,0.05],[8.14,-0.03],[8.27,-0.13],[8.37,-0.23],[8.46,-0.24],[8.57,-0.17],[8.66,-0.05],[8.75,0.09],[8.85,0.21],[8.95,0.27],[9.02,0.30],[9.11,0.21],[9.20,0.09],[9.31,-0.05],[9.41,-0.17],[9.50,-0.25],[9.59,-0.27],[9.67,-0.17],[9.76,-0.01],[9.85,-0.02],[9.96,-0.01],[10.05,0.11],[10.13,0.21],[10.22,0.21],[10.31,0.11],[10.41,-0.01],[10.52,-0.11],[10.62,-0.15],[10.70,-0.18],[10.80,-0.09],[10.93,-0.01],[11.04,0.07],[11.13,0.13],[11.22,0.14],[11.32,0.07],[11.45,0.01],[11.58,-0.04],[11.71,-0.06],[11.84,-0.04],[11.97,-0.01],[12.10,0.01],[12.23,0.01],[12.36,0.0],[12.49,0.01],[12.62,-0.01],[12.75,0.0],[12.88,-0.01],[13.01,-0.04],[13.1,-0.07],[13.2,-0.04],[13.34,0.0],[13.46,0.01],[13.6,0.03],[13.72,0.04],[13.85,0.0],[13.98,-0.03],[14.11,-0.01],[14.24,0.0],[14.37,0.0],[14.5,-0.01],[14.63,0.0],[14.76,-0.01],[14.89,0.01],[15.02,0.01],[15.15,0.03],[15.28,0.05],[15.37,0.07],[15.48,0.03],[15.54,-0.02],[15.73,-0.05],[15.93,-0.02],[16.12,0.0],[16.25,0.03],[16.38,0.04],[16.58,0.02],[16.71,-0.01],[16.84,-0.05],[17.03,-0.01],[17.23,0.02],[17.42,0.02],[17.62,0.0],[17.75,-0.01],[17.94,-0.02],[18.14,0.0],[18.33,0.0],[18.53,0.0],[18.72,0.01],[18.92,0.0],[19.11,0.0],[19.31,-0.02],[19.5,-0.01],[19.7,0.01],[19.83,0.03],[20.02,0.01],[20.21,-0.01],[20.41,-0.02],[20.6,0.0],[20.8,0.0],[20.99,0.0],[21.19,0.0],[21.38,0.0],[21.58,0.0],[21.77,-0.01],[21.97,-0.02],[22.16,0.0],[22.36,0.02],[22.55,0.01],[22.75,-0.01],[22.94,-0.02],[23.2,0.0],[23.46,0.0],[23.72,0.0],[23.98,0.0],[24.24,-0.01],[24.5,0.0],[24.76,0.0],[25.0,0.0]];
const computedSBH: P[] = [[0,0],[1,0],[2,0],[3.0,0.0],[3.27,-0.01],[3.53,-0.01],[3.66,-0.04],[3.79,-0.01],[3.92,0.05],[4.05,0.06],[4.18,0.08],[4.28,0.07],[4.37,-0.01],[4.46,-0.03],[4.53,-0.15],[4.59,-0.09],[4.66,-0.19],[4.72,0.11],[4.79,-0.13],[4.85,-0.17],[4.92,-0.01],[4.98,-0.30],[5.04,0.09],[5.09,0.23],[5.15,0.42],[5.20,-0.03],[5.26,0.27],[5.31,0.15],[5.37,0.29],[5.44,0.09],[5.50,0.03],[5.57,-0.01],[5.65,-0.17],[5.71,-0.33],[5.78,-0.46],[5.84,-0.21],[5.91,-0.29],[5.97,-0.17],[6.04,-0.05],[6.10,-0.13],[6.17,0.05],[6.23,0.19],[6.30,0.34],[6.36,0.36],[6.43,0.34],[6.49,0.39],[6.56,0.21],[6.62,-0.01],[6.69,-0.15],[6.75,-0.23],[6.82,-0.37],[6.87,-0.49],[6.93,-0.33],[7.0,-0.27],[7.06,-0.01],[7.11,0.23],[7.17,-0.01],[7.23,0.09],[7.30,-0.05],[7.36,0.15],[7.43,0.09],[7.49,0.19],[7.56,0.30],[7.62,0.25],[7.69,0.23],[7.75,0.15],[7.82,-0.03],[7.88,-0.09],[7.95,-0.15],[8.01,-0.05],[8.08,-0.13],[8.14,-0.19],[8.21,-0.21],[8.30,-0.23],[8.37,-0.21],[8.46,-0.09],[8.56,0.09],[8.62,0.13],[8.70,0.19],[8.79,0.23],[8.88,0.30],[8.95,0.39],[9.01,0.27],[9.08,0.13],[9.14,-0.05],[9.22,-0.19],[9.28,-0.25],[9.37,-0.21],[9.46,-0.27],[9.53,-0.33],[9.59,-0.39],[9.66,-0.25],[9.72,-0.05],[9.79,0.13],[9.85,0.29],[9.92,0.43],[9.98,0.39],[10.05,0.23],[10.11,0.29],[10.18,-0.05],[10.26,-0.17],[10.32,-0.23],[10.39,-0.25],[10.45,-0.30],[10.52,-0.23],[10.58,-0.33],[10.65,-0.17],[10.71,0.03],[10.78,0.19],[10.84,0.23],[10.93,0.27],[11.02,0.23],[11.10,0.19],[11.19,-0.01],[11.28,-0.13],[11.36,-0.19],[11.45,-0.20],[11.54,-0.09],[11.62,0.03],[11.71,0.11],[11.80,0.13],[11.88,0.07],[11.97,-0.05],[12.06,-0.13],[12.14,-0.15],[12.23,-0.03],[12.32,0.05],[12.40,0.11],[12.49,0.06],[12.58,0.01],[12.66,0.05],[12.75,0.03],[12.84,-0.01],[12.92,-0.05],[13.01,-0.13],[13.1,-0.19],[13.18,-0.09],[13.27,0.03],[13.36,0.13],[13.44,0.22],[13.53,0.15],[13.62,-0.01],[13.70,-0.11],[13.79,-0.15],[13.88,-0.09],[13.96,-0.01],[14.05,0.07],[14.14,0.10],[14.22,0.05],[14.31,-0.01],[14.40,-0.07],[14.48,-0.09],[14.57,-0.01],[14.66,0.03],[14.74,0.05],[14.83,-0.01],[14.92,-0.09],[15.0,-0.17],[15.09,-0.01],[15.18,0.13],[15.26,0.16],[15.34,-0.05],[15.44,-0.10],[15.51,-0.15],[15.6,-0.10],[15.7,0.0],[15.8,0.05],[15.9,0.07],[15.99,0.0],[16.08,-0.02],[16.19,0.02],[16.29,0.09],[16.38,0.0],[16.47,-0.02],[16.58,0.04],[16.67,0.02],[16.75,-0.07],[16.84,-0.15],[16.93,-0.05],[17.03,0.02],[17.1,0.10],[17.2,0.05],[17.29,0.0],[17.38,0.01],[17.49,0.0],[17.59,0.01],[17.68,-0.01],[17.81,-0.04],[17.94,-0.05],[18.07,-0.01],[18.16,0.01],[18.27,0.04],[18.37,-0.01],[18.5,-0.04],[18.59,0.0],[18.68,0.02],[18.79,-0.01],[18.89,-0.02],[18.98,0.05],[19.09,0.0],[19.18,-0.05],[19.31,-0.09],[19.44,-0.02],[19.57,0.01],[19.7,0.05],[19.8,0.08],[19.89,0.04],[19.98,0.0],[20.08,-0.02],[20.19,-0.01],[20.28,-0.05],[20.38,-0.07],[20.47,-0.02],[20.6,0.01],[20.71,0.04],[20.8,0.0],[20.93,-0.01],[21.06,0.01],[21.19,-0.01],[21.32,0.0],[21.45,0.01],[21.58,0.03],[21.71,-0.01],[21.8,-0.04],[21.9,-0.06],[22.03,-0.01],[22.16,0.02],[22.27,0.04],[22.36,0.0],[22.49,0.04],[22.62,0.02],[22.75,-0.04],[22.88,-0.04],[23.01,-0.01],[23.14,0.0],[23.27,-0.01],[23.4,-0.02],[23.57,0.01],[23.72,0.04],[23.85,0.0],[24.05,-0.01],[24.24,-0.01],[24.44,-0.01],[24.63,0.0],[24.82,0.0],[25.0,0.0]];

// South backfill at surface
const centrifugeSBS: P[] = [[0,0],[1,0],[2,0],[3.0,0.0],[3.25,-0.01],[3.51,-0.01],[3.64,-0.06],[3.77,-0.01],[3.90,0.04],[4.03,0.06],[4.16,0.10],[4.26,0.02],[4.35,-0.03],[4.44,0.03],[4.52,-0.11],[4.61,-0.25],[4.68,-0.11],[4.74,0.26],[4.81,-0.11],[4.87,-0.25],[4.94,-0.33],[5.0,-0.05],[5.07,0.31],[5.13,0.33],[5.20,-0.01],[5.26,0.21],[5.33,0.42],[5.39,0.29],[5.46,0.19],[5.55,-0.05],[5.63,-0.25],[5.72,-0.33],[5.81,-0.34],[5.89,-0.29],[5.98,-0.19],[6.08,-0.01],[6.17,0.19],[6.26,0.37],[6.37,0.47],[6.46,0.49],[6.54,0.41],[6.63,0.21],[6.73,-0.05],[6.82,-0.23],[6.91,-0.33],[7.02,-0.36],[7.11,-0.25],[7.21,-0.25],[7.30,-0.15],[7.41,0.05],[7.50,0.21],[7.60,0.35],[7.69,0.42],[7.77,0.39],[7.86,0.25],[7.95,0.03],[8.06,-0.15],[8.16,-0.31],[8.28,-0.39],[8.38,-0.41],[8.48,-0.35],[8.57,-0.17],[8.68,0.03],[8.77,0.23],[8.86,0.43],[8.96,0.51],[9.04,0.53],[9.12,0.43],[9.22,0.19],[9.33,-0.05],[9.43,-0.23],[9.54,-0.37],[9.61,-0.46],[9.69,-0.53],[9.77,-0.39],[9.85,-0.17],[9.94,0.15],[10.03,0.31],[10.13,0.33],[10.26,0.33],[10.37,0.23],[10.46,0.03],[10.55,-0.17],[10.63,-0.33],[10.70,-0.42],[10.78,-0.33],[10.87,-0.13],[10.96,0.11],[11.07,0.27],[11.17,0.35],[11.26,0.27],[11.37,0.09],[11.46,-0.05],[11.56,-0.13],[11.67,-0.15],[11.76,-0.13],[11.89,-0.05],[12.02,-0.01],[12.15,0.03],[12.28,0.05],[12.41,0.06],[12.5,0.01],[12.6,-0.01],[12.73,0.08],[12.83,0.02],[12.96,-0.07],[13.08,-0.17],[13.16,-0.21],[13.25,-0.05],[13.35,0.11],[13.44,0.19],[13.55,0.19],[13.64,0.11],[13.74,-0.01],[13.86,-0.07],[13.96,-0.03],[14.07,0.03],[14.16,0.05],[14.29,0.03],[14.42,0.02],[14.55,0.0],[14.68,-0.01],[14.81,-0.07],[14.91,-0.13],[15.0,-0.05],[15.13,0.07],[15.26,0.13],[15.32,0.16],[15.42,0.10],[15.52,-0.05],[15.65,-0.11],[15.78,-0.13],[15.91,-0.07],[16.04,-0.04],[16.17,0.04],[16.30,0.10],[16.43,0.04],[16.56,-0.01],[16.69,-0.02],[16.82,-0.09],[16.95,-0.04],[17.08,0.02],[17.21,0.10],[17.34,0.06],[17.47,0.04],[17.60,0.0],[17.73,-0.02],[17.86,-0.05],[17.99,-0.04],[18.12,-0.01],[18.25,0.0],[18.38,0.0],[18.51,0.04],[18.64,0.04],[18.77,0.02],[18.90,0.0],[19.03,0.04],[19.16,-0.02],[19.29,-0.07],[19.42,-0.06],[19.55,-0.02],[19.68,0.05],[19.81,0.09],[19.94,0.05],[20.06,-0.01],[20.2,-0.04],[20.32,-0.09],[20.45,-0.02],[20.58,0.01],[20.71,0.05],[20.84,0.02],[20.97,-0.01],[21.1,0.01],[21.23,0.0],[21.36,0.02],[21.49,0.04],[21.62,0.01],[21.75,-0.02],[21.88,-0.07],[22.01,-0.04],[22.14,0.0],[22.27,0.01],[22.40,0.03],[22.53,0.05],[22.66,0.0],[22.79,-0.02],[22.92,-0.04],[23.05,-0.02],[23.18,0.0],[23.31,-0.01],[23.44,0.0],[23.64,0.02],[23.83,0.01],[24.03,0.0],[24.22,-0.01],[24.48,0.0],[24.74,0.0],[25.0,0.0]];
const computedSBS: P[] = [[0,0],[1,0],[2,0],[3.0,0.0],[3.25,-0.01],[3.51,-0.01],[3.64,-0.05],[3.77,0.01],[3.90,0.05],[4.03,0.06],[4.16,0.08],[4.25,0.11],[4.31,0.01],[4.39,-0.05],[4.46,-0.01],[4.52,-0.13],[4.59,-0.21],[4.65,-0.23],[4.72,-0.05],[4.77,0.25],[4.83,-0.31],[4.90,-0.23],[4.96,-0.39],[5.03,-0.01],[5.09,0.33],[5.16,0.36],[5.22,0.21],[5.29,0.27],[5.35,0.23],[5.42,0.19],[5.48,0.39],[5.54,0.21],[5.59,0.27],[5.64,-0.21],[5.69,-0.63],[5.76,-0.33],[5.82,-0.23],[5.89,-0.29],[5.95,-0.05],[6.02,-0.17],[6.08,-0.07],[6.15,0.13],[6.21,0.27],[6.28,0.37],[6.37,0.36],[6.43,0.31],[6.50,0.21],[6.59,0.09],[6.67,-0.05],[6.73,-0.27],[6.82,-0.37],[6.89,-0.47],[6.95,-0.33],[7.02,-0.21],[7.08,0.13],[7.15,0.25],[7.21,-0.01],[7.28,0.01],[7.34,-0.11],[7.41,0.05],[7.47,0.19],[7.54,0.31],[7.61,0.47],[7.69,0.29],[7.76,0.09],[7.82,0.19],[7.89,-0.05],[7.95,-0.25],[8.03,-0.17],[8.09,-0.05],[8.16,-0.17],[8.25,-0.21],[8.34,-0.25],[8.42,-0.21],[8.48,-0.05],[8.55,0.13],[8.61,0.14],[8.68,0.11],[8.77,0.21],[8.83,0.25],[8.93,0.37],[8.99,0.31],[9.07,0.11],[9.13,-0.05],[9.20,-0.21],[9.26,-0.25],[9.35,-0.23],[9.44,-0.29],[9.52,-0.31],[9.61,-0.44],[9.68,-0.29],[9.74,-0.01],[9.81,0.29],[9.87,0.39],[9.96,0.43],[10.03,0.29],[10.11,0.33],[10.17,0.11],[10.24,-0.15],[10.30,-0.21],[10.37,-0.29],[10.43,-0.33],[10.50,-0.23],[10.56,-0.33],[10.63,-0.23],[10.69,-0.09],[10.76,0.11],[10.85,0.25],[10.93,0.31],[11.0,0.23],[11.08,0.25],[11.17,0.15],[11.24,0.03],[11.30,-0.15],[11.37,-0.25],[11.43,-0.19],[11.52,-0.09],[11.60,0.03],[11.69,0.10],[11.77,0.16],[11.85,0.09],[11.93,-0.07],[12.02,-0.15],[12.11,-0.19],[12.18,-0.07],[12.28,0.03],[12.38,0.10],[12.47,0.07],[12.56,-0.01],[12.64,0.03],[12.73,0.05],[12.82,0.03],[12.93,-0.11],[13.02,-0.19],[13.12,-0.21],[13.21,-0.03],[13.29,0.13],[13.38,0.21],[13.46,0.28],[13.54,0.19],[13.61,-0.03],[13.70,-0.05],[13.80,-0.13],[13.87,-0.03],[13.96,0.01],[14.03,0.05],[14.12,0.11],[14.20,0.05],[14.29,-0.01],[14.38,-0.05],[14.46,-0.09],[14.55,0.01],[14.64,0.03],[14.72,-0.01],[14.81,-0.09],[14.9,-0.19],[14.98,-0.05],[15.07,0.11],[15.16,0.19],[15.19,0.25],[15.26,0.17],[15.32,-0.02],[15.39,0.02],[15.45,-0.07],[15.55,-0.12],[15.62,-0.16],[15.71,-0.10],[15.81,-0.05],[15.91,0.11],[16.0,0.0],[16.08,-0.04],[16.17,0.05],[16.26,0.11],[16.34,0.06],[16.43,-0.02],[16.52,0.01],[16.60,0.05],[16.69,0.0],[16.78,-0.10],[16.86,-0.15],[16.95,-0.07],[17.04,0.05],[17.14,0.15],[17.23,0.06],[17.34,0.01],[17.44,0.02],[17.53,0.0],[17.62,0.01],[17.73,-0.01],[17.82,-0.04],[17.90,-0.04],[17.99,-0.05],[18.09,0.0],[18.18,0.0],[18.27,0.07],[18.35,0.0],[18.44,-0.02],[18.53,0.01],[18.61,0.02],[18.70,-0.01],[18.79,-0.05],[18.90,0.0],[18.99,0.07],[19.06,0.02],[19.16,-0.04],[19.26,-0.07],[19.35,-0.09],[19.46,-0.05],[19.55,0.0],[19.64,0.05],[19.74,0.07],[19.83,0.10],[19.94,0.04],[20.03,-0.01],[20.13,-0.02],[20.22,-0.05],[20.32,-0.10],[20.43,-0.04],[20.52,0.02],[20.62,0.04],[20.71,0.01],[20.84,0.0],[20.97,0.0],[21.1,-0.01],[21.23,0.01],[21.36,0.0],[21.49,0.02],[21.6,0.02],[21.73,0.0],[21.88,-0.09],[22.01,-0.04],[22.12,0.02],[22.21,0.06],[22.30,0.0],[22.40,0.04],[22.51,0.06],[22.6,0.0],[22.69,-0.05],[22.79,-0.06],[22.9,-0.02],[22.99,0.0],[23.12,0.0],[23.25,-0.01],[23.38,-0.02],[23.51,0.0],[23.64,0.02],[23.73,0.04],[23.83,0.0],[24.03,-0.01],[24.22,0.01],[24.41,0.0],[24.61,0.0],[24.80,0.0],[25.0,0.0]];

const CENTRIFUGE = [centrifuge2H, centrifugeH, centrifugeH2, centrifugeSurf, centrifugeSBH, centrifugeSBS];
const COMPUTED = [computed2H, computedH, computedH2, computedSurf, computedSBH, computedSBS];

// ---------- layout / style ----------
const W = 1625;
const H = 1094;
const COL_X: [number, number][] = [[111, 753], [956.6, 1598.3]];
const ROW_Y: [number, number][] = [[272.6, 6], [645.6, 379], [1019.6, 753]];
const FONT = "'Liberation Sans', Arial, Helvetica, sans-serif";
const RED = "#ff0000";
const BLUE = "#0000ff";
const AXIS = "#1a1a1a";

function Panel({ idx }: { idx: number }) {
  const col = idx % 2;
  const row = Math.floor(idx / 2);
  const [x0, x1] = COL_X[col];
  const [yb, yt] = ROW_Y[row];
  const x = d3.scaleLinear().domain(TIME_DOMAIN).range([x0, x1]);
  const y = d3.scaleLinear().domain(ACC_DOMAIN).range([yb, yt]);
  const line = d3.line<P>().x((d) => x(d[0])).y((d) => y(d[1]));
  const showX = row === 2;
  const fmt = (v: number) => (v < 0 ? "\u2212" + Math.abs(v) : String(v));
  return (
    <g>
      <path d={line(CENTRIFUGE[idx]) || ""} fill="none" stroke={RED} strokeWidth={1.4} strokeLinejoin="round" />
      <path d={line(COMPUTED[idx]) || ""} fill="none" stroke={BLUE} strokeWidth={1.4} strokeLinejoin="round" />
      <line x1={x0} x2={x0} y1={yt} y2={yb} stroke={AXIS} strokeWidth={1.2} />
      <line x1={x0} x2={x1} y1={yb} y2={yb} stroke={AXIS} strokeWidth={1.2} />
      {TIME_TICKS.map((t) => (
        <line key={"xt" + t} x1={x(t)} x2={x(t)} y1={yb} y2={yb - 7} stroke={AXIS} strokeWidth={1.2} />
      ))}
      {ACC_TICKS.map((v) => (
        <g key={"yt" + v}>
          <line x1={x0} x2={x0 + 7} y1={y(v)} y2={y(v)} stroke={AXIS} strokeWidth={1.2} />
          <text x={x0 - 12} y={y(v)} dy="0.35em" textAnchor="end" fontSize={24} fontFamily={FONT} fill="#000">
            {fmt(v)}
          </text>
        </g>
      ))}
      {showX &&
        TIME_TICKS.map((t) => (
          <text key={"xl" + t} x={x(t)} y={yb + 32} textAnchor="middle" fontSize={24} fontFamily={FONT} fill="#000">
            {t}
          </text>
        ))}
      {showX && (
        <text x={(x0 + x1) / 2} y={yb + 66} textAnchor="middle" fontSize={26} fontFamily={FONT} fill="#000">
          {X_LABEL}
        </text>
      )}
      {col === 0 && (
        <text
          transform={`translate(${x0 - 88},${(yt + yb) / 2}) rotate(-90)`}
          textAnchor="middle"
          dy="0.35em"
          fontSize={26}
          fontFamily={FONT}
          fill="#000"
        >
          {Y_LABEL}
        </text>
      )}
      <text x={x0 + 26} y={yt + 31} fontSize={26.5} fontFamily={FONT} fill="#000">
        {PANEL_TITLES[idx]}
      </text>
      {idx === 1 && (
        <g>
          <line x1={x1 - 232} x2={x1 - 152} y1={yt + 199} y2={yt + 199} stroke={RED} strokeWidth={1.4} />
          <text x={x1 - 143} y={yt + 199} dy="0.35em" fontSize={26.5} fontFamily={FONT} fill="#000">
            {SERIES_NAMES[0]}
          </text>
          <line x1={x1 - 232} x2={x1 - 152} y1={yt + 232} y2={yt + 232} stroke={BLUE} strokeWidth={1.4} />
          <text x={x1 - 143} y={yt + 232} dy="0.35em" fontSize={26.5} fontFamily={FONT} fill="#000">
            {SERIES_NAMES[1]}
          </text>
        </g>
      )}
    </g>
  );
}

export default function App() {
  return (
    <svg
      width={W}
      height={H}
      viewBox={`0 0 ${W} ${H}`}
      style={{ position: "absolute", left: 0, top: 0, background: "#fff", display: "block" }}
    >
      <rect x={0} y={0} width={W} height={H} fill="#fff" />
      {PANEL_TITLES.map((_, i) => (
        <Panel key={i} idx={i} />
      ))}
    </svg>
  );
}
